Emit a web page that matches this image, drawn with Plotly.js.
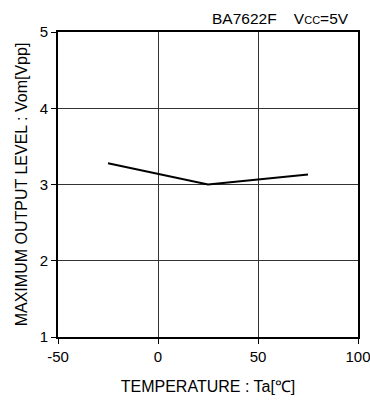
<!DOCTYPE html>
<html><head><meta charset="utf-8">
<script src="https://cdn.plot.ly/plotly-3.0.1.min.js"></script>
<style>html,body{margin:0;padding:0;background:#fff;}#chart{width:370px;height:401px;}</style>
</head><body><div id="chart"></div>
<script>
const temperature = [-25, 25, 75];
const vom = [3.28, 3.0, 3.13];
const xTicks = [-50, 0, 50, 100];
const yTicks = [1, 2, 3, 4, 5];

const fam = 'Liberation Sans, Arial, sans-serif';
Plotly.newPlot('chart', [{
  x: temperature, y: vom, mode: 'lines', type: 'scatter',
  line: {color: '#000', width: 2}, hoverinfo: 'none', showlegend: false
}], {
  width: 370, height: 401,
  margin: {l: 58, r: 12, t: 32, b: 64},
  paper_bgcolor: '#fff', plot_bgcolor: '#fff',
  font: {size: 15, family: fam, color: '#000'},
  xaxis: {
    range: [-50, 100], tickvals: xTicks, ticktext: xTicks.map(String),
    showgrid: true, gridcolor: '#333', gridwidth: 1, zeroline: false,
    showline: true, linecolor: '#000', linewidth: 2, mirror: true,
    ticks: 'outside', ticklen: 5, tickcolor: '#000', tickwidth: 1,
    ticklabeloverflow: 'allow', automargin: false,
    tickfont: {size: 15, family: fam, color: '#000'},
    title: {text: 'TEMPERATURE : Ta[℃]', font: {size: 16, family: fam, color: '#000'}, standoff: 17}
  },
  yaxis: {
    range: [1, 5], tickvals: yTicks, ticktext: yTicks.map(String),
    showgrid: true, gridcolor: '#333', gridwidth: 1, zeroline: false,
    showline: true, linecolor: '#000', linewidth: 2, mirror: true,
    ticks: 'outside', ticklen: 5, tickcolor: '#000', tickwidth: 1,
    automargin: false,
    tickfont: {size: 15, family: fam, color: '#000'},
    title: {text: 'MAXIMUM OUTPUT LEVEL : Vom[Vpp]', font: {size: 16, family: fam, color: '#000'}, standoff: 8}
  },
  annotations: [{
    xref: 'paper', yref: 'paper', x: 0.975, y: 1, xanchor: 'right', yanchor: 'bottom', yshift: 3,
    showarrow: false, text: 'BA7622F&nbsp;&nbsp;&nbsp;&nbsp;V<span style="font-size:11px">CC</span>=5V',
    font: {size: 15.5, family: fam, color: '#000'}
  }]
}, {staticPlot: true, displayModeBar: false});
</script></body></html>
